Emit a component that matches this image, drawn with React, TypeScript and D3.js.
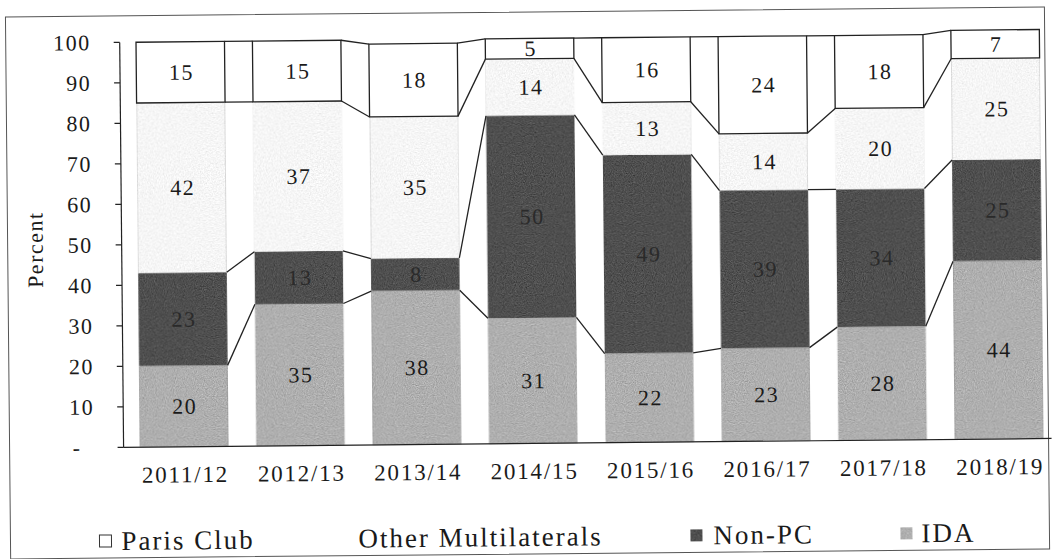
import React from 'react';
import * as d3 from 'd3';

const years = ['2011/12', '2012/13', '2013/14', '2014/15', '2015/16', '2016/17', '2017/18', '2018/19'];
const ida = [20, 35, 38, 31, 22, 23, 28, 44];
const nonPC = [23, 13, 8, 50, 49, 39, 34, 25];
const otherMulti = [42, 37, 35, 14, 13, 14, 20, 25];
const parisClub = [15, 15, 18, 5, 16, 24, 18, 7];
const yTicks = [0, 10, 20, 30, 40, 50, 60, 70, 80, 90, 100];

const seriesKeys = ['ida', 'nonPC', 'other', 'pc'];
const seriesNames: Record<string, string> = {
  pc: 'Paris Club',
  other: 'Other Multilaterals',
  nonPC: 'Non-PC',
  ida: 'IDA',
};
const fills: Record<string, string> = {
  ida: '#afafaf',
  nonPC: '#4f4f4f',
  other: '#f1f1f1',
  pc: '#ffffff',
};
const grains: Record<string, string> = {
  ida: 'url(#grain)',
  nonPC: 'url(#grain)',
  other: 'url(#grainLight)',
};

const W = 1052;
const H = 559;
const FONT = '"Liberation Serif", "Times New Roman", serif';

const App = () => {
  const rows = years.map((yr, i) => ({
    year: yr,
    ida: ida[i],
    nonPC: nonPC[i],
    other: otherMulti[i],
    pc: parisClub[i],
  }));

  const stacked = d3.stack<any>().keys(seriesKeys)(rows);

  const x = d3.scaleBand<string>().domain(years).range([122, 1058]).paddingInner(0.24).paddingOuter(0.14);
  const y = d3.scaleLinear().domain([0, 100]).range([443.5, 38.5]);
  const bw = x.bandwidth();

  // legend layout (marker start, text start)
  const legend = [
    { key: 'pc', mx: 97, tx: 119 },
    { key: 'other', mx: 336, tx: 356 },
    { key: 'nonPC', mx: 688, tx: 711 },
    { key: 'ida', mx: 898, tx: 919 },
  ];

  return (
    <svg
      width={W}
      height={H}
      style={{ position: 'absolute', left: 0, top: 0, background: '#fff' }}
      fontFamily={FONT}
    >
      <defs>
        <filter id="grain" x="0" y="0" width="100%" height="100%" colorInterpolationFilters="sRGB">
          <feTurbulence type="fractalNoise" baseFrequency="0.9" numOctaves="2" seed="4" result="noise" />
          <feColorMatrix in="noise" type="matrix"
            values="0.33 0.33 0.33 0 0  0.33 0.33 0.33 0 0  0.33 0.33 0.33 0 0  0 0 0 0 1" result="gray" />
          <feComposite in="SourceGraphic" in2="gray" operator="arithmetic" k1="0" k2="1" k3="0.5" k4="-0.25" result="mix" />
          <feComposite in="mix" in2="SourceGraphic" operator="in" />
        </filter>
        <filter id="grainLight" x="0" y="0" width="100%" height="100%" colorInterpolationFilters="sRGB">
          <feTurbulence type="fractalNoise" baseFrequency="0.7" numOctaves="2" seed="9" result="noise" />
          <feColorMatrix in="noise" type="matrix"
            values="0.33 0.33 0.33 0 0  0.33 0.33 0.33 0 0  0.33 0.33 0.33 0 0  0 0 0 0 1" result="gray" />
          <feComposite in="SourceGraphic" in2="gray" operator="arithmetic" k1="0" k2="1" k3="0.3" k4="-0.13" result="mix" />
          <feComposite in="mix" in2="SourceGraphic" operator="in" />
        </filter>
      </defs>
      <g transform={`rotate(-0.55, ${W / 2}, ${H / 2})`}>
        {/* outer frame */}
        <rect x={8} y={12} width={1039} height={542} fill="none" stroke="#555" strokeWidth={1} />

        {/* bars */}
        {stacked.map((s) => (
          <g key={s.key}>
            {s.map((d, i) => (
              <rect
                key={i}
                x={x(years[i])}
                y={y(d[1])}
                width={bw}
                height={y(d[0]) - y(d[1])}
                fill={fills[s.key]}
                stroke={s.key === 'pc' ? '#222' : 'none'}
                strokeWidth={s.key === 'pc' ? 1.3 : 0}
                filter={grains[s.key]}
              />
            ))}
          </g>
        ))}

        {/* connector lines between bars */}
        {stacked.map((s) => (
          <g key={'c' + s.key}>
            {s.slice(0, -1).map((d, i) => (
              <line
                key={i}
                x1={(x(years[i]) as number) + bw}
                y1={y(d[1])}
                x2={x(years[i + 1]) as number}
                y2={y(s[i + 1][1])}
                stroke="#222"
                strokeWidth={1.3}
              />
            ))}
          </g>
        ))}

        {/* value labels */}
        {stacked.map((s) => (
          <g key={'l' + s.key}>
            {s.map((d, i) => (
              <text
                key={i}
                x={(x(years[i]) as number) + bw / 2 + 1}
                y={y((d[0] + d[1]) / 2)}
                dy="0.34em"
                textAnchor="middle"
                fontSize={22}
                letterSpacing={1.5}
                fill={s.key === 'nonPC' ? '#2a2a2a' : '#1a1a1a'}
              >
                {d[1] - d[0]}
              </text>
            ))}
          </g>
        ))}

        {/* y axis */}
        <line x1={122} x2={122} y1={y(100)} y2={y(0)} stroke="#222" strokeWidth={1.2} />
        {yTicks.map((t) => (
          <g key={t}>
            <line x1={116} x2={122} y1={y(t)} y2={y(t)} stroke="#222" strokeWidth={1.2} />
            <text
              x={t === 0 ? 80 : 93}
              y={y(t)}
              dy="0.34em"
              textAnchor="end"
              fontSize={22}
              letterSpacing={1.5}
              fill="#1a1a1a"
            >
              {t === 0 ? '-' : t}
            </text>
          </g>
        ))}
        <text
          transform={`translate(43, 245) rotate(-90)`}
          textAnchor="middle"
          fontSize={22}
          letterSpacing={1.5}
          fill="#1a1a1a"
        >
          Percent
        </text>

        {/* x axis */}
        <line x1={122} x2={1050} y1={y(0)} y2={y(0)} stroke="#222" strokeWidth={1.2} />
        {years.map((yr) => (
          <text
            key={yr}
            x={(x(yr) as number) + bw / 2 + 1}
            y={479}
            textAnchor="middle"
            fontSize={23}
            letterSpacing={1.8}
            fill="#1a1a1a"
          >
            {yr}
          </text>
        ))}

        {/* legend */}
        {legend.map((l) => (
          <g key={l.key}>
            {l.key !== 'other' && (
              <rect
                x={l.mx}
                y={531}
                width={12}
                height={12}
                fill={l.key === 'pc' ? '#fff' : fills[l.key]}
                stroke={l.key === 'pc' ? '#333' : 'none'}
                strokeWidth={1}
                filter={grains[l.key]}
              />
            )}
            <text x={l.tx} y={546} fontSize={27} letterSpacing={2} fill="#1a1a1a">
              {seriesNames[l.key]}
            </text>
          </g>
        ))}
      </g>
    </svg>
  );
};

export default App;
